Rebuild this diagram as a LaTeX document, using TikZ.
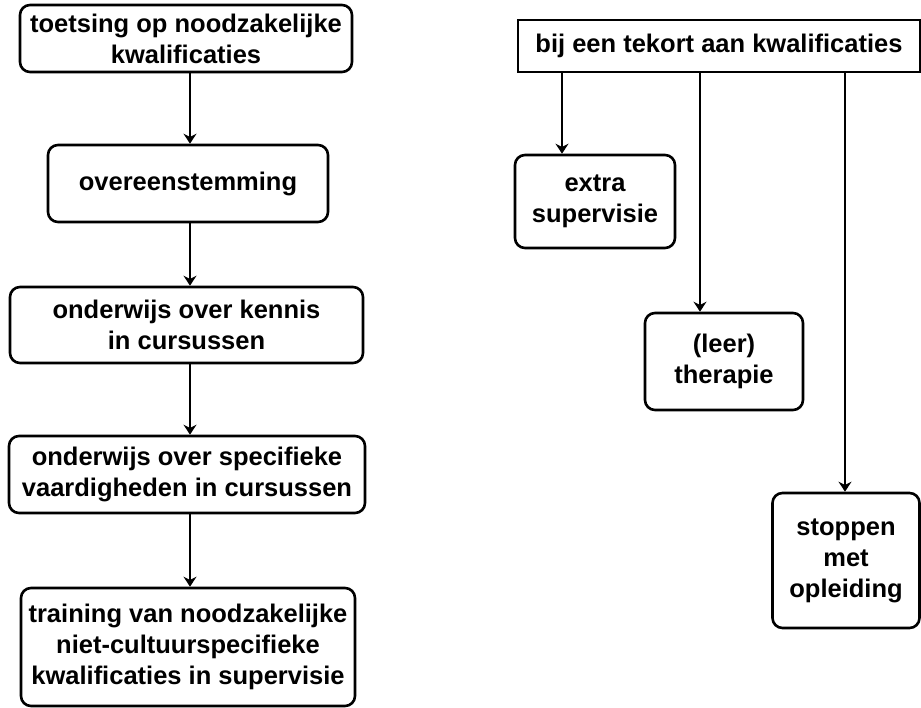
\documentclass[tikz,border=0pt]{standalone}
\usepackage{fontspec}
\setmainfont{Liberation Sans}
\usetikzlibrary{arrows.meta}
\begin{document}
\begin{tikzpicture}[x=1pt,y=-1pt,
  every node/.style={font=\bfseries\fontsize{25.5}{31}\selectfont, align=center, inner sep=0pt},
  rbox/.style={draw, line width=2.6pt, rounded corners=10pt},
  sbox/.style={draw, line width=2.6pt},
  conn/.style={line width=2.4pt, -{Stealth[length=10pt,width=13pt]}}]
\useasboundingbox (0,0) rectangle (921,708);
% left column
\node[rbox, minimum width=332, minimum height=67] (b1) at (186,38.5) {toetsing op noodzakelijke\\kwalificaties};
\node[rbox, minimum width=280, minimum height=77] (b2) at (188,183.5) {overeenstemming};
\node[rbox, minimum width=353, minimum height=76] (b3) at (186.5,325) {onderwijs over kennis\\in cursussen};
\node[rbox, minimum width=356, minimum height=77] (b4) at (187,474.5) {onderwijs over specifieke\\vaardigheden in cursussen};
\node[rbox, minimum width=334, minimum height=118] (b5) at (188,647) {training van noodzakelijke\\niet-cultuurspecifieke\\kwalificaties in supervisie};
\coordinate (ax) at (190,0);
\draw[conn] (b1.south -| ax) -- (b2.north -| ax);
\draw[conn] (b2.south -| ax) -- (b3.north -| ax);
\draw[conn] (b3.south -| ax) -- (b4.north -| ax);
\draw[conn] (b4.south -| ax) -- (b5.north -| ax);
% right side
\node[sbox, minimum width=402, minimum height=52] (top) at (719,46) {bij een tekort aan kwalificaties};
\node[rbox, minimum width=160, minimum height=93] (s1) at (595,201.5) {extra\\supervisie};
\node[rbox, minimum width=158, minimum height=97] (s2) at (724,361.5) {(leer)\\therapie};
\node[rbox, minimum width=147, minimum height=135] (s3) at (846,560.5) {stoppen\\met\\opleiding};
\coordinate (x1) at (562,0);
\coordinate (x2) at (700,0);
\coordinate (x3) at (845,0);
\draw[conn] (top.south -| x1) -- (s1.north -| x1);
\draw[conn] (top.south -| x2) -- (s2.north -| x2);
\draw[conn] (top.south -| x3) -- (s3.north -| x3);
\end{tikzpicture}
\end{document}
